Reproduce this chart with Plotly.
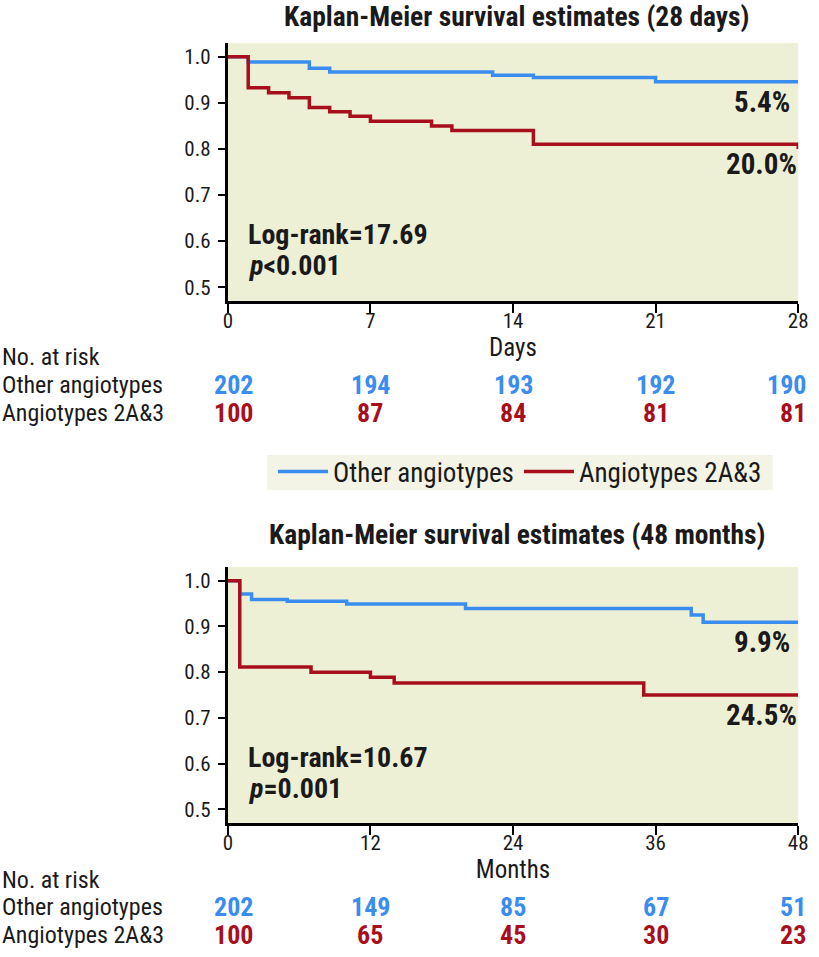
import plotly.graph_objects as go

# ---------------- data ----------------
# Panel 1: 28 days
days_other_t = [0, 1, 4, 5, 13, 15, 21, 28]
days_other_s = [1.0, 0.989, 0.975, 0.967, 0.960, 0.955, 0.946, 0.946]
days_ang_t = [0, 1, 2, 3, 4, 5, 6, 7, 10, 11, 15, 28, 28]
days_ang_s = [1.0, 0.933, 0.922, 0.911, 0.890, 0.881, 0.871, 0.860, 0.850, 0.840, 0.810, 0.810, 0.800]

# Panel 2: 48 months
months_other_t = [0, 1, 2, 5, 10, 20, 39, 40, 48]
months_other_s = [1.0, 0.971, 0.959, 0.955, 0.949, 0.939, 0.925, 0.909, 0.909]
months_ang_t = [0, 1, 7, 12, 14, 35, 48]
months_ang_s = [1.0, 0.811, 0.800, 0.789, 0.776, 0.750, 0.750]

# Risk tables
risk_days = [0, 7, 14, 21, 28]
risk_days_other = [202, 194, 193, 192, 190]
risk_days_ang = [100, 87, 84, 81, 81]
risk_months = [0, 12, 24, 36, 48]
risk_months_other = [202, 149, 85, 67, 51]
risk_months_ang = [100, 65, 45, 30, 23]

group_names = ["Other angiotypes", "Angiotypes 2A&3"]
panel_titles = ["Kaplan-Meier survival estimates (28 days)",
                "Kaplan-Meier survival estimates (48 months)"]
axis_titles = ["Days", "Months"]
end_labels_days = ["5.4%", "20.0%"]
end_labels_months = ["9.9%", "24.5%"]
stats_days = ["Log-rank=17.69", "<i>p</i><0.001"]
stats_months = ["Log-rank=10.67", "<i>p</i>=0.001"]

# ---------------- style ----------------
W, H = 819, 957
FONT = "Roboto Condensed, Liberation Sans, sans-serif"
BLUE = "#3a8def"
RED = "#a80f1c"
BG = "#eef0d6"
LEG_BG = "#f3f3e6"
TXT = "#1a1a1a"


def px_x(p):
    return p / W


def px_y(p):
    return 1 - p / H


fig = go.Figure()

panels = [
    dict(x="x", y="y", ot=days_other_t, os=days_other_s, at=days_ang_t, as_=days_ang_s, leg=True),
    dict(x="x2", y="y2", ot=months_other_t, os=months_other_s, at=months_ang_t, as_=months_ang_s, leg=False),
]
for p in panels:
    fig.add_trace(go.Scatter(x=p["ot"], y=p["os"], mode="lines", line=dict(color=BLUE, width=3.5, shape="hv"),
                             name=group_names[0], showlegend=p["leg"], xaxis=p["x"], yaxis=p["y"],
                             cliponaxis=False, legendrank=1))
    fig.add_trace(go.Scatter(x=p["at"], y=p["as_"], mode="lines", line=dict(color=RED, width=3.5, shape="hv"),
                             name=group_names[1], showlegend=p["leg"], xaxis=p["x"], yaxis=p["y"],
                             cliponaxis=False, legendrank=2))

xdom = [px_x(227), px_x(808)]
ydom1 = [px_y(301), px_y(43)]
ydom2 = [px_y(823), px_y(567)]

common_x = dict(showline=True, linecolor="black", linewidth=3, ticks="outside", ticklen=9,
                tickwidth=1.5, tickcolor="black", showgrid=False, zeroline=False,
                tickfont=dict(family=FONT, size=21, color=TXT), ticklabelstandoff=-10,
                title_standoff=0, title_font=dict(family=FONT, size=25, color=TXT))
common_y = dict(showline=True, linecolor="black", linewidth=3, ticks="outside", ticklen=7,
                tickwidth=1.5, tickcolor="black", showgrid=False, zeroline=False,
                range=[0.47, 1.03], tickvals=[0.5, 0.6, 0.7, 0.8, 0.9, 1.0], tickformat=".1f",
                tickfont=dict(family=FONT, size=21, color=TXT), ticklabelstandoff=3)

fig.update_layout(
    xaxis=dict(domain=xdom, anchor="y", range=[0, 28], tickvals=risk_days,
               title_text=axis_titles[0], **common_x),
    yaxis=dict(domain=ydom1, anchor="x", **common_y),
    xaxis2=dict(domain=xdom, anchor="y2", range=[0, 48], tickvals=risk_months,
                title_text=axis_titles[1], **common_x),
    yaxis2=dict(domain=ydom2, anchor="x2", **common_y),
)

ann = []
# titles
for t, yp in zip(panel_titles, [16, 534]):
    ann.append(dict(text="<b>" + t + "</b>", x=px_x(522), y=px_y(yp), xref="paper", yref="paper",
                    xanchor="center", yanchor="middle", showarrow=False,
                    font=dict(family=FONT, size=27.5, color=TXT)))

# end labels and stats
for xa, ya, xmax, ends, stats in [("x", "y", 28, end_labels_days, stats_days),
                                  ("x2", "y2", 48, end_labels_months, stats_months)]:
    ey = [0.901, 0.767] if xa == "x" else [0.866, 0.706]
    for lab, yv in zip(ends, ey):
        ann.append(dict(text="<b>" + lab + "</b>", x=xmax * (771 - 227) / 581, y=yv, xref=xa, yref=ya,
                        xanchor="center", yanchor="middle", showarrow=False,
                        font=dict(family=FONT, size=29, color=TXT)))
    sy = [0.614, 0.546]
    for lab, yv in zip(stats, sy):
        ann.append(dict(text="<b>" + lab + "</b>", x=xmax * (245 - 227) / 581, y=yv, xref=xa, yref=ya,
                        xanchor="left", yanchor="middle", showarrow=False,
                        font=dict(family=FONT, size=28, color=TXT)))

# risk tables
for xa, times, oth, ang, rows in [("x", risk_days, risk_days_other, risk_days_ang, [357, 385, 413]),
                                  ("x2", risk_months, risk_months_other, risk_months_ang, [880, 907, 935])]:
    for lab, yp in zip(["No. at risk"] + group_names, rows):
        ann.append(dict(text=lab, x=0, y=px_y(yp), xref="paper", yref="paper", xanchor="left",
                        yanchor="middle", xshift=-5, showarrow=False,
                        font=dict(family=FONT, size=24, color=TXT)))
    n = len(times)
    for i, (t, a, b) in enumerate(zip(times, oth, ang)):
        if i == n - 1:
            anchor, shift = "right", 10
        else:
            anchor, shift = "center", (6 if i == 0 else 0)
        for val, col, yp in [(a, BLUE, rows[1]), (b, RED, rows[2])]:
            ann.append(dict(text="<b>%d</b>" % val, x=t, y=px_y(yp), xref=xa, yref="paper",
                            xanchor=anchor, yanchor="middle", xshift=shift, showarrow=False,
                            font=dict(family=FONT, size=26, color=col)))

# legend background box
shapes = [dict(type="rect", xref="paper", yref="paper", x0=px_x(267), x1=px_x(782),
               y0=px_y(490), y1=px_y(455), fillcolor=LEG_BG, line=dict(width=0), layer="below")]

fig.update_layout(
    annotations=ann,
    shapes=shapes,
    width=W, height=H,
    margin=dict(l=0, r=0, t=0, b=0),
    paper_bgcolor="white",
    plot_bgcolor=BG,
    showlegend=True,
    legend=dict(orientation="h", x=px_x(273), y=px_y(472), xanchor="left", yanchor="middle",
                bgcolor="rgba(0,0,0,0)", borderwidth=0, font=dict(family=FONT, size=27, color=TXT),
                itemwidth=50, tracegroupgap=0),
)

fig.write_html("out.html", config={"displayModeBar": False},
               post_script="document.body.style.margin='0';document.body.style.overflow='hidden';")
